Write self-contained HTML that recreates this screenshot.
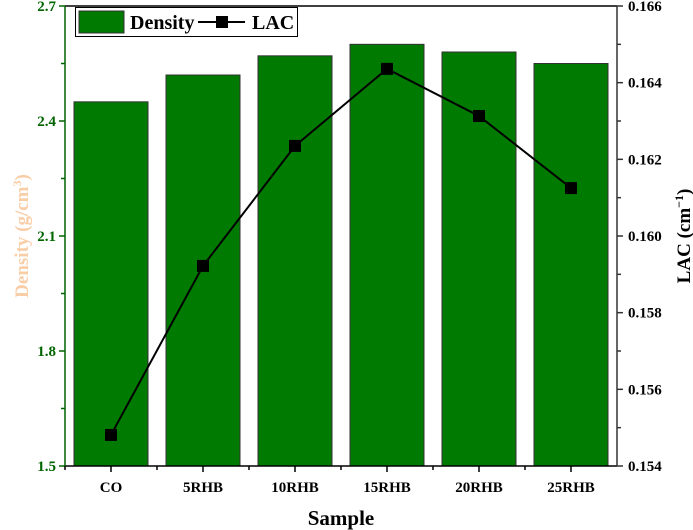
<!DOCTYPE html>
<html><head><meta charset="utf-8"><style>
body{margin:0;background:#fff;position:relative}
svg text{font-family:"Liberation Serif",serif;font-weight:bold}
#chart{position:absolute;left:0;top:0}
</style></head><body>
<svg id="chart" width="693" height="530" xmlns="http://www.w3.org/2000/svg">
<g id="bars"></g><g id="line"></g><g id="axes"></g>
</svg>
<script>
const categories=["CO","5RHB","10RHB","15RHB","20RHB","25RHB"];
const density=[2.45,2.52,2.57,2.60,2.58,2.55];
const lac=[0.15481,0.15922,0.16235,0.16436,0.16313,0.16125];
const densityTicks=[1.5,1.8,2.1,2.4,2.7];
const lacTicks=[0.154,0.156,0.158,0.160,0.162,0.164,0.166];
const NS="http://www.w3.org/2000/svg";
const L=65,R=617,T=6,B=466;
const step=(R-L)/categories.length;
const xC=i=>L+step*(i+0.5);
const yD=v=>B-(v-1.5)/(2.7-1.5)*(B-T);
const yL=v=>B-(v-0.154)/(0.166-0.154)*(B-T);
function mk(tag,attrs,parent,txt){const e=document.createElementNS(NS,tag);for(const k in attrs)e.setAttribute(k,attrs[k]);if(txt!==undefined)e.textContent=txt;parent.appendChild(e);return e;}
const gb=document.getElementById('bars'),gl=document.getElementById('line'),ga=document.getElementById('axes');
density.forEach((v,i)=>{const r=mk('rect',{x:xC(i)-37,y:yD(v),width:74,height:B-yD(v),fill:'#007a00',stroke:'#333','stroke-width':1},gb);

});
const pl=mk('polyline',{points:lac.map((v,i)=>xC(i)+','+yL(v)).join(' '),fill:'none',stroke:'#000','stroke-width':2},gl);


lac.forEach((v,i)=>{const m=mk('rect',{x:xC(i)-6,y:yL(v)-6,width:12,height:12,fill:'#000'},gl);

});
mk('line',{x1:L,y1:T,x2:R,y2:T,stroke:'#000','stroke-width':1.5},ga);
mk('line',{x1:L,y1:B,x2:R,y2:B,stroke:'#000','stroke-width':1.5},ga);
mk('line',{x1:L,y1:T,x2:L,y2:B,stroke:'#006400','stroke-width':1.5},ga);
mk('line',{x1:R,y1:T,x2:R,y2:B,stroke:'#333','stroke-width':1.5},ga);
densityTicks.forEach((v,i)=>{mk('line',{x1:L-6,y1:yD(v),x2:L,y2:yD(v),stroke:'#006400','stroke-width':1.5},ga);
if(i<densityTicks.length-1)mk('line',{x1:L-4,y1:(yD(v)+yD(densityTicks[i+1]))/2,x2:L,y2:(yD(v)+yD(densityTicks[i+1]))/2,stroke:'#006400','stroke-width':1.5},ga);
const t=mk('text',{x:L-9,y:yD(v)+5,'text-anchor':'end','font-size':15,fill:'#006400'},ga,v.toFixed(1));

});
lacTicks.forEach((v,i)=>{mk('line',{x1:R,y1:yL(v),x2:R+6,y2:yL(v),stroke:'#333','stroke-width':1.5},ga);
if(i<lacTicks.length-1)mk('line',{x1:R,y1:(yL(v)+yL(lacTicks[i+1]))/2,x2:R+4,y2:(yL(v)+yL(lacTicks[i+1]))/2,stroke:'#333','stroke-width':1.5},ga);
const t=mk('text',{x:R+11,y:yL(v)+5,'font-size':15,fill:'#000'},ga,v.toFixed(3));

});
categories.forEach((c,i)=>{mk('line',{x1:xC(i),y1:B,x2:xC(i),y2:B+6,stroke:'#000','stroke-width':1.5},ga);
mk('line',{x1:L+step*i,y1:B,x2:L+step*i,y2:B+4,stroke:'#000','stroke-width':1.5},ga);
const t=mk('text',{x:xC(i),y:B+26,'text-anchor':'middle','font-size':15,fill:'#000'},ga,c);

});
</script>
<svg style="position:absolute;left:0;top:0" width="693" height="530" xmlns="http://www.w3.org/2000/svg">
<text x="341" y="525" text-anchor="middle" font-size="21" fill="#000">Sample</text>
<text transform="translate(28,236) rotate(-90)" text-anchor="middle" font-size="19" fill="#f9cda6">Density (g/cm<tspan dy="-7" font-size="12">3</tspan><tspan dy="7">)</tspan></text>
<text transform="translate(690,236) rotate(-90)" text-anchor="middle" font-size="19" fill="#000">LAC (cm<tspan dy="-7" font-size="12">−1</tspan><tspan dy="7">)</tspan></text>
<g>
<rect x="75.5" y="7.5" width="222" height="29" fill="#fff" stroke="#000" stroke-width="1"/>
<rect x="79" y="11" width="45" height="22" fill="#007a00" stroke="#333"/>
<text x="130" y="29" font-size="20" fill="#000">Density</text>
<line x1="198" y1="22" x2="245" y2="22" stroke="#000" stroke-width="2"/>
<rect x="216" y="16" width="12" height="12" fill="#000"/>
<text x="252" y="29" font-size="20" fill="#000">LAC</text>
</g>
</svg>
</body></html>
